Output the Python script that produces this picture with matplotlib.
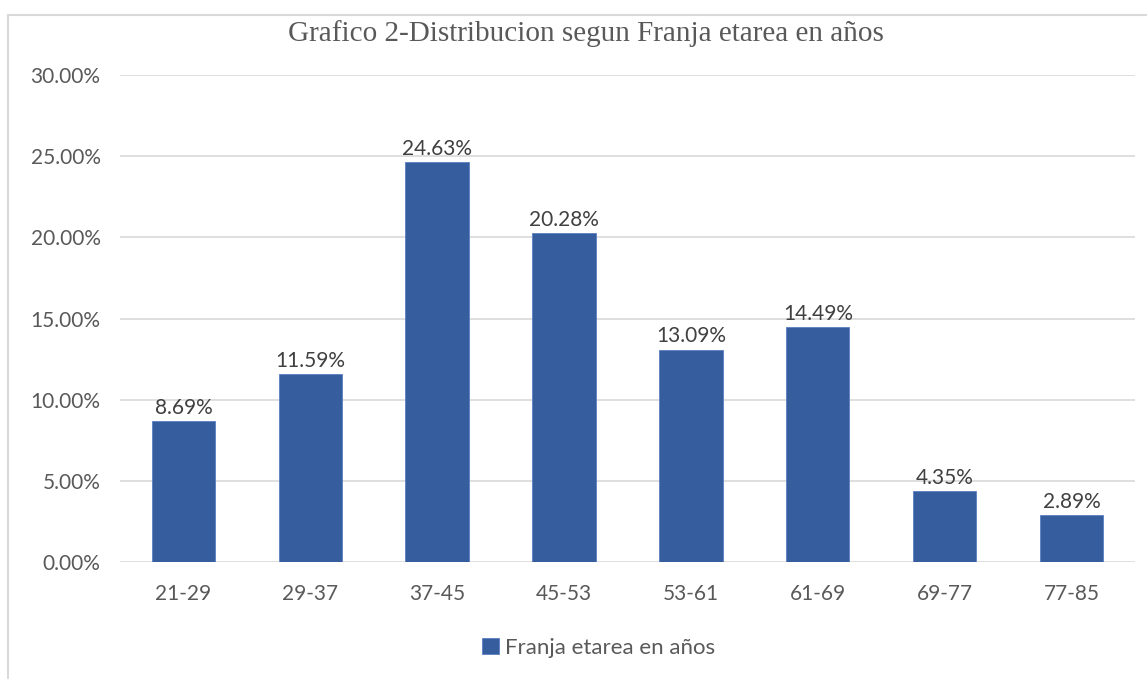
import matplotlib.pyplot as plt
from matplotlib.patches import Rectangle

categories = ["21-29", "29-37", "37-45", "45-53", "53-61", "61-69", "69-77", "77-85"]
values = [8.69, 11.59, 24.63, 20.28, 13.09, 14.49, 4.35, 2.89]
yticks = [0, 5, 10, 15, 20, 25, 30]

bar_color = "#365E9F"
text_color = "#595959"

plt.rcParams['font.family'] = ['Lato', 'DejaVu Sans']

fig = plt.figure(figsize=(11.47, 6.79), dpi=100)
ax = fig.add_axes([0.1046, 0.1723, 0.8849, 0.7172])

# chart border, runs off the right and bottom edges like the screenshot
fig.patches.append(Rectangle((8 / 1147, -0.05), 1.1, 0.978 + 0.05, transform=fig.transFigure,
                             fill=False, edgecolor="#D9D9D9", linewidth=1.5))

x = range(len(categories))
bars = ax.bar(x, values, width=0.5, color=bar_color, edgecolor="#5A7FC0", linewidth=0.6,
              label="Franja etarea en años", zorder=3)

for xi, v in zip(x, values):
    ax.text(xi, v + 0.2, f"{v:.2f}%", ha="center", va="bottom", fontsize=15, color="#404040")

ax.set_xlim(-0.5, len(categories) - 0.5)
ax.set_ylim(0, 30)
ax.set_yticks(yticks)
ax.set_yticklabels([f"{t:.2f}%" for t in yticks], fontsize=15, color=text_color)
ax.set_xticks(list(x))
ax.set_xticklabels(categories, fontsize=15, color=text_color)
ax.tick_params(axis="both", length=0)
ax.tick_params(axis="x", pad=16)
ax.tick_params(axis="y", pad=14)
ax.grid(axis="y", color="#D9D9D9", linewidth=1.2, zorder=0)
for s in ax.spines.values():
    s.set_visible(False)

fig.text(0.511, 0.950, "Grafico 2-Distribucion segun Franja etarea en años", ha="center", va="center",
         fontsize=21, color="#595959", family=["Liberation Serif", "DejaVu Serif"])

leg = fig.legend(handles=[bars], labels=["Franja etarea en años"], loc="center",
                 bbox_to_anchor=(0.522, 0.046), frameon=False, fontsize=16,
                 handlelength=0.75, handleheight=0.75, handletextpad=0.3)
for t in leg.get_texts():
    t.set_color(text_color)

fig.savefig("out.png", dpi=100)
